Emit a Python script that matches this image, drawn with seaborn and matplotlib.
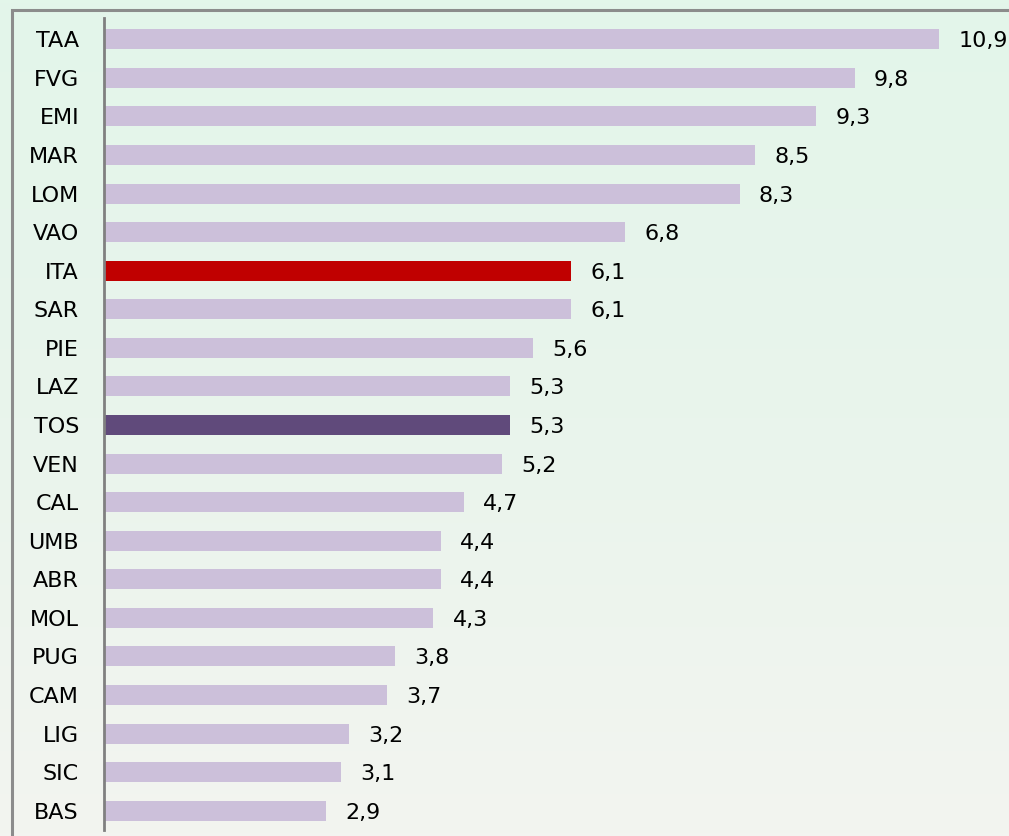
import numpy as np
import pandas as pd
import seaborn as sns
import matplotlib.pyplot as plt
from matplotlib.colors import LinearSegmentedColormap
from matplotlib.patches import Rectangle

regioni = ["TAA", "FVG", "EMI", "MAR", "LOM", "VAO", "ITA", "SAR", "PIE", "LAZ", "TOS",
           "VEN", "CAL", "UMB", "ABR", "MOL", "PUG", "CAM", "LIG", "SIC", "BAS"]
valori = [10.9, 9.8, 9.3, 8.5, 8.3, 6.8, 6.1, 6.1, 5.6, 5.3, 5.3,
          5.2, 4.7, 4.4, 4.4, 4.3, 3.8, 3.7, 3.2, 3.1, 2.9]

df = pd.DataFrame({"regione": regioni, "valore": valori})

col_base = "#CCC0DA"
colori = {r: col_base for r in regioni}
colori["ITA"] = "#C00000"
colori["TOS"] = "#604A7B"

sns.set_style("white")
plt.rcParams["font.family"] = ["DejaVu Sans"]

W, H = 1009, 836
fig = plt.figure(figsize=(W / 100, H / 100), dpi=100)

# sfondo sfumato
bg = fig.add_axes([0, 0, 1, 1], zorder=0)
grad = LinearSegmentedColormap.from_list("g", ["#F3F4F0", "#E9F4EC", "#E3F6EA"])
bg.imshow(np.linspace(0, 1, 256).reshape(-1, 1), aspect="auto", cmap=grad,
          origin="lower", extent=[0, 1, 0, 1])
bg.set_xlim(0, 1)
bg.set_ylim(0, 1)
bg.axis("off")
# cornice
bg.add_patch(Rectangle((12 / W, -0.05), 1.1, (H - 10) / H + 0.05, fill=False,
                       edgecolor="#8C8C8C", linewidth=2.2, transform=bg.transAxes))

ax = fig.add_axes([104 / W, (H - 830) / H, (W - 104) / W, (830 - 20) / H], zorder=1)
ax.patch.set_alpha(0)

sns.barplot(data=df, x="valore", y="regione", hue="regione", palette=colori,
            order=regioni, legend=False, width=0.52, ax=ax, saturation=1,
            linewidth=0)

for i, v in enumerate(valori):
    ax.text(v + 0.25, i + 0.05, f"{v:.1f}".replace(".", ","), va="center", ha="left",
            fontsize=16, color="black")

ax.set_xlim(0, (W - 104) / 76.6)
ax.set_ylim(20.5, -0.5)
ax.set_xlabel(None)
ax.set_ylabel(None)
ax.set_xticks([])
ax.tick_params(axis="y", length=0, pad=18, labelsize=16, labelcolor="black")
for s in ["top", "right", "bottom"]:
    ax.spines[s].set_visible(False)
ax.spines["left"].set_color("#808080")
ax.spines["left"].set_linewidth(2)
ax.spines["left"].set_bounds(-0.55, 20.5)

fig.savefig("out.png", dpi=100)
